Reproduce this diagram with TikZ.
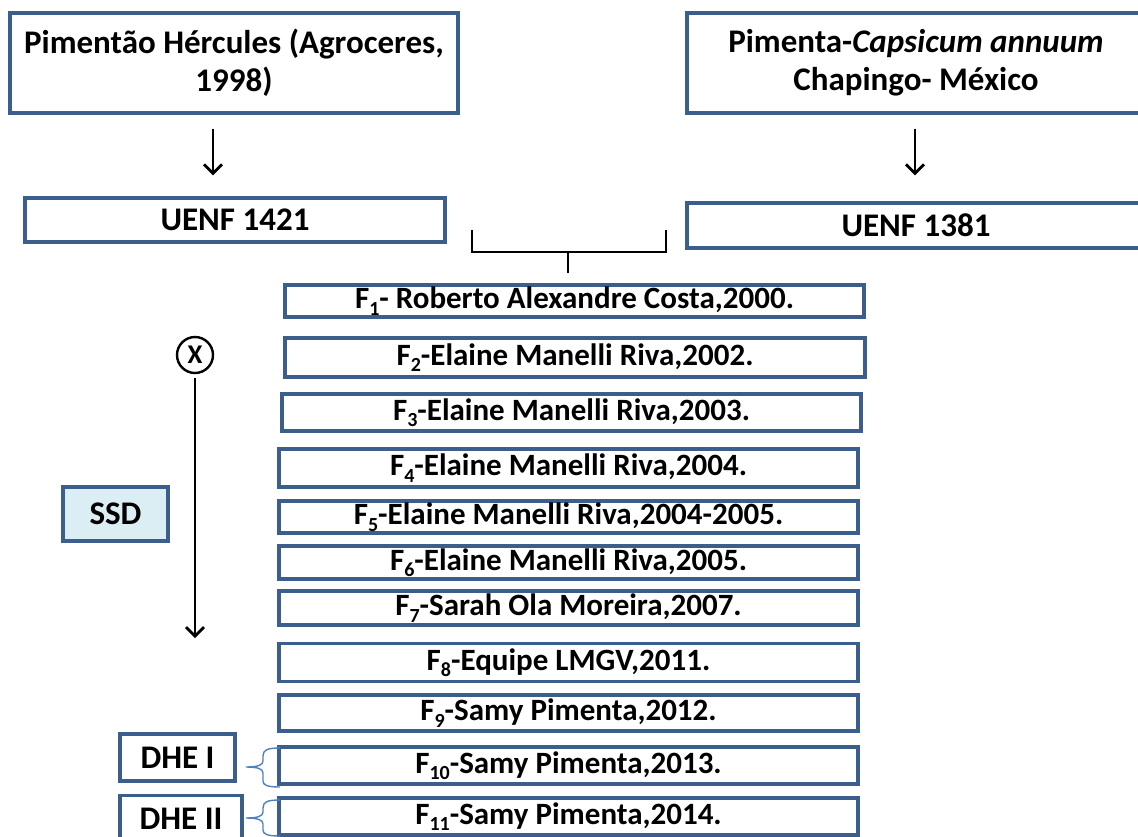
\documentclass[tikz,border=0pt]{standalone}
\usepackage{fontspec}
\setmainfont{Carlito}
\usetikzlibrary{arrows.meta}
\definecolor{bord}{HTML}{3B5E8C}
\definecolor{ssdfill}{HTML}{DBEEF4}
\definecolor{brc}{HTML}{4F81BD}
\newcommand\fsub[1]{\raisebox{-6.5pt}{\fontsize{20}{20}\selectfont #1}}
\begin{document}
\begin{tikzpicture}[x=1pt,y=-1pt,
  box/.style={draw=bord, line width=3.2pt, fill=white, inner sep=0pt, align=center,
    font=\bfseries\fontsize{33}{38}\selectfont},
  fb/.style={draw=bord, line width=3.2pt, inner sep=0pt, minimum width=579pt,
    font=\bfseries\fontsize{31}{32}\selectfont},
  arr/.style={line width=2.8pt, -{Straight Barb[length=9pt,width=18pt,line width=2.8pt]}},
  brk/.style={line width=2.8pt},
  brace/.style={draw=brc, line width=1.4pt}]
\useasboundingbox (0,0) rectangle (1138,836);
\clip (0,0) rectangle (1138,836);
% top boxes
\node[box, minimum width=448pt, minimum height=100pt] (b1) at (234,63)
  {Pimentão Hércules (Agroceres,\\1998)};
\node[box, minimum width=458pt, minimum height=100pt] (r1) at (916,63)
  {Pimenta-\textit{Capsicum annuum}\\Chapingo- México};
\node[box, minimum width=420pt, minimum height=44pt] (u1) at (235,220) {UENF 1421};
\node[box, minimum width=458pt, minimum height=45pt] (u2) at (916,225.5) {UENF 1381};
\draw[arr] ([xshift=-21pt,yshift=-14pt]b1.south) -- ([xshift=-22pt,yshift=21pt]u1.north);
\draw[arr] ([xshift=-1pt,yshift=-14pt]r1.south) -- ([xshift=-1pt,yshift=26pt]u2.north);
% F boxes
\node[fb, minimum height=32pt] (f1) at (574.5,301) {F\fsub{1}- Roberto Alexandre Costa,2000.};
\node[fb, minimum width=580pt, minimum height=39pt] (f2) at (575,357.5) {F\fsub{2}-Elaine Manelli Riva,2002.};
\node[fb, minimum height=37pt] (f3) at (571.5,412.5) {F\fsub{3}-Elaine Manelli Riva,2003.};
\node[fb, minimum height=38pt] (f4) at (568.5,468) {F\fsub{4}-Elaine Manelli Riva,2004.};
\node[fb, minimum height=32pt] (f5) at (568.5,517) {F\fsub{5}-Elaine Manelli Riva,2004-2005.};
\node[fb, minimum height=33pt] (f6) at (568.5,562.5) {F\fsub{6}-Elaine Manelli Riva,2005.};
\node[fb, minimum height=34pt] (f7) at (568.5,608) {F\fsub{7}-Sarah Ola Moreira,2007.};
\node[fb, minimum height=38pt] (f8) at (568.5,662.5) {F\fsub{8}-Equipe LMGV,2011.};
\node[fb, minimum height=36pt] (f9) at (568.5,713) {F\fsub{9}-Samy Pimenta,2012.};
\node[fb, minimum height=37pt] (f10) at (568.5,765.5) {F\fsub{10}-Samy Pimenta,2013.};
\node[fb, minimum height=37pt] (f11) at (568.5,816.5) {F\fsub{11}-Samy Pimenta,2014.};
% bracket joining the two parents
\coordinate (bl) at (472,230);
\coordinate (br) at (666,230);
\coordinate (bm) at (568,252);
\draw[brk] (bl) -- (bl |- bm) -- (br |- bm) -- (br);
\draw[brk] (bm) -- ([xshift=-6.5pt,yshift=10pt]f1.north);
% selfing
\node[draw, circle, line width=2.4pt, minimum size=36pt, inner sep=0pt,
  font=\bfseries\fontsize{27}{27}\selectfont] (x) at (195,355) {X};
\coordinate (xe) at (195,638);
\draw[arr] ([yshift=-4pt]x.south) -- (xe);
\node[draw=bord, fill=ssdfill, line width=3.2pt, minimum width=105pt, minimum height=54pt,
  inner sep=0pt, font=\bfseries\fontsize{33}{34}\selectfont] (ssd) at (115.5,514) {SSD};
% DHE
\node[box, minimum width=115pt, minimum height=47pt, font=\bfseries\fontsize{33}{34}\selectfont]
  (d1) at (177.5,757.5) {DHE I};
\node[box, minimum width=122pt, minimum height=47pt, font=\bfseries\fontsize{33}{34}\selectfont]
  (d2) at (181,819) {DHE II};
\draw[brace] (280,748) .. controls (267,748) and (263,750) .. (263,756) -- (263,761)
  .. controls (263,765) and (258,767) .. (246,767)
  .. controls (258,767) and (263,769) .. (263,773) -- (263,781)
  .. controls (263,785) and (267,787) .. (280,787);
\draw[brace] (280,800) .. controls (267,800) and (263,802) .. (263,808) -- (263,812)
  .. controls (263,816) and (258,818) .. (246,818)
  .. controls (258,818) and (263,820) .. (263,824) -- (263,830)
  .. controls (263,834) and (267,836) .. (280,836);
\end{tikzpicture}
\end{document}
